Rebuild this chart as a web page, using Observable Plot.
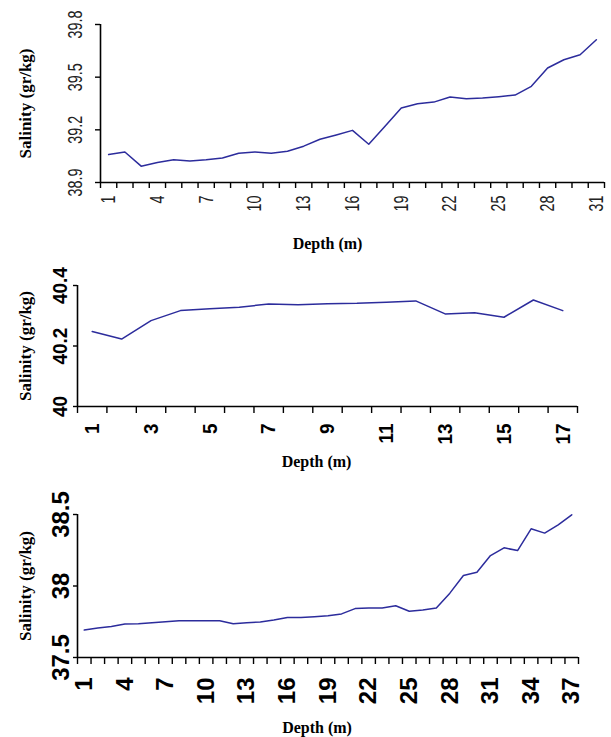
<!DOCTYPE html>
<html>
<head>
<meta charset="utf-8">
<script src="https://cdn.jsdelivr.net/npm/d3@7"></script>
<script src="https://cdn.jsdelivr.net/npm/@observablehq/plot@0.6"></script>
<style>
  html, body { margin: 0; padding: 0; background: #fff; }
  #wrap { width: 611px; }
  #wrap svg { display: block; overflow: visible; }
</style>
</head>
<body>
<div id="wrap"></div>
<script>
// ---------- data ----------
const depth1 = [1,2,3,4,5,6,7,8,9,10,11,12,13,14,15,16,17,18,19,20,21,22,23,24,25,26,27,28,29,30,31];
const salinity1 = [39.059, 39.074, 38.993, 39.014, 39.029, 39.023, 39.029, 39.040, 39.067, 39.074,
                   39.067, 39.078, 39.107, 39.146, 39.171, 39.197, 39.118, 39.220, 39.324, 39.349,
                   39.358, 39.387, 39.377, 39.381, 39.389, 39.398, 39.448, 39.552, 39.599, 39.628, 39.713];
const xLabels1 = [1,4,7,10,13,16,19,22,25,28,31];
const yTicks1 = [38.9, 39.2, 39.5, 39.8];

const depth2 = [1,2,3,4,5,6,7,8,9,10,11,12,13,14,15,16,17];
const salinity2 = [40.248, 40.223, 40.284, 40.317, 40.323, 40.328, 40.339, 40.336, 40.340, 40.341,
                   40.345, 40.349, 40.306, 40.310, 40.295, 40.352, 40.317];
const xLabels2 = [1,3,5,7,9,11,13,15,17];
const yTicks2 = [40, 40.2, 40.4];

const depth3 = [1,2,3,4,5,6,7,8,9,10,11,12,13,14,15,16,17,18,19,20,21,22,23,24,25,26,27,28,29,30,31,32,33,34,35,36,37];
const salinity3 = [37.692, 37.706, 37.717, 37.734, 37.736, 37.743, 37.750, 37.757, 37.757, 37.757,
                   37.757, 37.736, 37.743, 37.748, 37.762, 37.780, 37.780, 37.785, 37.792, 37.805,
                   37.842, 37.846, 37.846, 37.862, 37.823, 37.832, 37.846, 37.950, 38.073, 38.096,
                   38.213, 38.267, 38.248, 38.400, 38.370, 38.428, 38.498];
const xLabels3 = [1,4,7,10,13,16,19,22,25,28,31,34,37];
const yTicks3 = [37.5, 38, 38.5];

const yTitle = "Salinity (gr/kg)";
const xTitle = "Depth (m)";

// ---------- drawing ----------
const SANS = "'Liberation Sans', Arial, Helvetica, sans-serif";
const SERIF = "'Liberation Serif', 'Times New Roman', serif";
const LINE = "#2c2c9c";

function makePanel(c) {
  const data = c.depth.map((d, i) => ({depth: d, sal: c.sal[i]}));
  const n = c.depth.length;
  const bounds = c.depth.map(d => d - 0.5).concat([c.depth[n - 1] + 0.5]);
  const y0 = c.yTicks[0], y1 = c.yTicks[c.yTicks.length - 1];
  const labelStyle = {fontSize: c.fs, fontWeight: c.fw, fill: c.tc, fontFamily: SANS, rotate: -90};
  const svg = Plot.plot({
    width: 611,
    height: c.height,
    marginTop: c.mt, marginBottom: c.mb, marginLeft: c.ml, marginRight: c.mr,
    style: {background: "white", overflow: "visible"},
    x: {type: "linear", domain: [0.5, n + 0.5], axis: null},
    y: {type: "linear", domain: [y0, y1], axis: null},
    marks: [
      Plot.axisX(bounds, {tickSize: c.xTick, tickFormat: () => "", label: null, stroke: "#000", strokeWidth: 1.4}),
      Plot.axisY(c.yTicks, {tickSize: c.yTick, tickFormat: () => "", label: null, stroke: "#000", strokeWidth: 1.4}),
      Plot.text(c.xLabels, {x: d => d, text: d => String(d), frameAnchor: "bottom", dy: c.xPad,
        textAnchor: "end", lineAnchor: "middle", ...labelStyle}),
      Plot.text(c.yTicks, {y: d => d, text: d => String(d), frameAnchor: "left", dx: -c.yPad,
        textAnchor: "middle", lineAnchor: "bottom", ...labelStyle}),
      Plot.ruleX([0.5], {stroke: "#000", strokeWidth: 1.6}),
      Plot.ruleY([y0], {stroke: "#000", strokeWidth: 1.6}),
      Plot.line(data, {x: "depth", y: "sal", stroke: LINE, strokeWidth: 1.5}),
      Plot.text([yTitle], {frameAnchor: "left", dx: c.yTitleDx, rotate: -90, textAnchor: "middle",
        lineAnchor: "middle", fontFamily: SERIF, fontWeight: "bold", fontSize: 17, fill: "#000"}),
      Plot.text([xTitle], {frameAnchor: "bottom", dx: c.xTitleDx, dy: c.xTitleDy, textAnchor: "middle",
        lineAnchor: "bottom", fontFamily: SERIF, fontWeight: "bold", fontSize: 16, fill: "#000"})
    ]
  });
  // compress rotated numeric tick labels along their reading direction
  svg.querySelectorAll("text").forEach(t => {
    const tr = t.getAttribute("transform");
    if (tr && tr.includes("rotate") && /^[0-9.]+$/.test(t.textContent.trim())) {
      t.setAttribute("transform", tr + ` scale(${c.sx},1)`);
    }
  });
  return svg;
}

const wrap = document.getElementById("wrap");
wrap.appendChild(makePanel({
  depth: depth1, sal: salinity1, xLabels: xLabels1, yTicks: yTicks1,
  height: 250, mt: 24, mb: 68, ml: 100, mr: 7,
  xTick: 6, xPad: 13, yTick: 5, yPad: 19,
  fs: 20, fw: "normal", tc: "#222", sx: 0.72,
  yTitleDx: -75, xTitleDx: -25, xTitleDy: 66
}));
wrap.appendChild(makePanel({
  depth: depth2, sal: salinity2, xLabels: xLabels2, yTicks: yTicks2,
  height: 225, mt: 35, mb: 69, ml: 77, mr: 34,
  xTick: 7, xPad: 17, yTick: 4, yPad: 11,
  fs: 21, fw: "bold", tc: "#000", sx: 0.9,
  yTitleDx: -52, xTitleDx: -11, xTitleDy: 60
}));
wrap.appendChild(makePanel({
  depth: depth3, sal: salinity3, xLabels: xLabels3, yTicks: yTicks3,
  height: 262, mt: 39, mb: 80, ml: 77, mr: 33,
  xTick: 7, xPad: 20, yTick: 4, yPad: 9,
  fs: 24, fw: "bold", tc: "#000", sx: 1,
  yTitleDx: -52, xTitleDx: -11, xTitleDy: 75
}));
</script>
</body>
</html>
